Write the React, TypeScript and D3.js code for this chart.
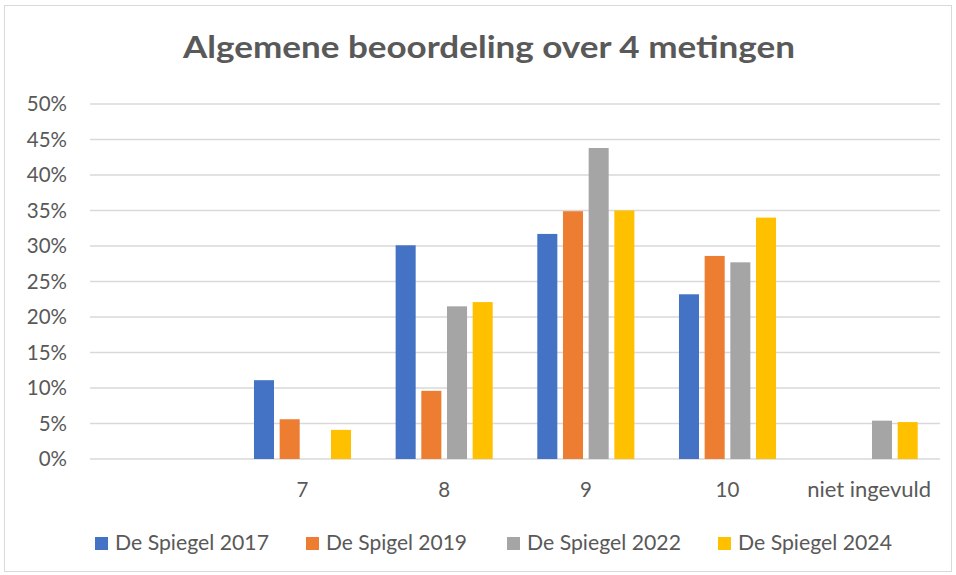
import React, { useEffect, useRef } from 'react';
import * as d3 from 'd3';

const categories = ['', '7', '8', '9', '10', 'niet ingevuld'];
const seriesNames = ['De Spiegel 2017', 'De Spigel 2019', 'De Spiegel 2022', 'De Spiegel 2024'];
const colors = ['#4472C4', '#ED7D31', '#A5A5A5', '#FFC000'];
const values2017 = [0, 11.1, 30.1, 31.7, 23.2, 0];
const values2019 = [0, 5.6, 9.6, 34.9, 28.6, 0];
const values2022 = [0, 0, 21.5, 43.8, 27.7, 5.4];
const values2024 = [0, 4.1, 22.1, 35.0, 34.0, 5.2];
const yTicks = [0, 5, 10, 15, 20, 25, 30, 35, 40, 45, 50];

const FONT = 'Lato, "Open Sans", sans-serif';
const TEXT = '#595959';

const App: React.FC = () => {
    const chartRef = useRef<SVGSVGElement>(null);

    useEffect(() => {
        const svg = d3.select(chartRef.current);
        svg.selectAll("*").remove();

        const width = 956, height = 575;
        const left = 90, right = 940, top = 104, bottom = 459;
        const series = [values2017, values2019, values2022, values2024];

        // chart frame
        svg.append("rect")
            .attr("x", 4.5).attr("y", 5.5)
            .attr("width", width - 9).attr("height", height - 9)
            .attr("fill", "#fff").attr("stroke", "#D9D9D9");

        svg.append("text")
            .attr("x", 489).attr("y", 58)
            .attr("text-anchor", "middle")
            .attr("font-family", FONT).attr("font-weight", 700)
            .attr("font-size", 30).attr("fill", TEXT)
            .attr("textLength", 612).attr("lengthAdjust", "spacingAndGlyphs")
            .text("Algemene beoordeling over 4 metingen");

        const x0 = d3.scaleBand().domain(categories.map((_, i) => String(i)))
            .range([left, right]).paddingInner(0.275).paddingOuter(0.1375);
        const x1 = d3.scaleBand().domain(seriesNames)
            .range([0, x0.bandwidth()]).paddingInner(0.22).paddingOuter(0.11);
        const y = d3.scaleLinear().domain([0, 50]).range([bottom, top]);

        // gridlines + y labels
        const grid = svg.append("g");
        grid.selectAll("line").data(yTicks).enter().append("line")
            .attr("x1", left).attr("x2", right)
            .attr("y1", d => y(d)).attr("y2", d => y(d))
            .attr("stroke", "#D9D9D9").attr("stroke-width", 1.3);
        grid.selectAll("text").data(yTicks).enter().append("text")
            .attr("x", 67).attr("y", d => y(d) + 7)
            .attr("text-anchor", "end")
            .attr("font-family", FONT).attr("font-size", 20.5).attr("fill", TEXT)
            .text(d => `${d}%`);

        // bars
        series.forEach((vals, si) => {
            svg.append("g").selectAll("rect")
                .data(vals.map((v, i) => ({ v, i })).filter(d => d.v > 0))
                .enter().append("rect")
                // @ts-ignore
                .attr("x", d => x0(String(d.i)) + x1(seriesNames[si]))
                .attr("width", x1.bandwidth())
                .attr("y", d => y(d.v))
                .attr("height", d => y(0) - y(d.v))
                .attr("fill", colors[si]);
        });

        // category labels
        svg.append("g").selectAll("text").data(categories).enter().append("text")
            // @ts-ignore
            .attr("x", (_, i) => x0(String(i)) + x0.bandwidth() / 2)
            .attr("y", 497)
            .attr("text-anchor", "middle")
            .attr("font-family", FONT).attr("font-size", 20.5).attr("fill", TEXT)
            .attr("textLength", d => d === 'niet ingevuld' ? 124 : null)
            .attr("lengthAdjust", "spacingAndGlyphs")
            .text(d => d);

        // legend
        const legendX = [95, 306, 507, 718];
        const legendW = [154, 141, 154, 154];
        const legend = svg.append("g");
        seriesNames.forEach((name, i) => {
            legend.append("rect")
                .attr("x", legendX[i]).attr("y", 537)
                .attr("width", 13).attr("height", 13)
                .attr("fill", colors[i]);
            legend.append("text")
                .attr("x", legendX[i] + 20).attr("y", 550)
                .attr("font-family", FONT).attr("font-size", 20.5).attr("fill", TEXT)
                .attr("textLength", legendW[i]).attr("lengthAdjust", "spacingAndGlyphs")
                .text(name);
        });
    }, []);

    return <svg ref={chartRef} width="956" height="575"
        style={{ position: 'absolute', left: 0, top: 0 }}></svg>;
};

export default App;
